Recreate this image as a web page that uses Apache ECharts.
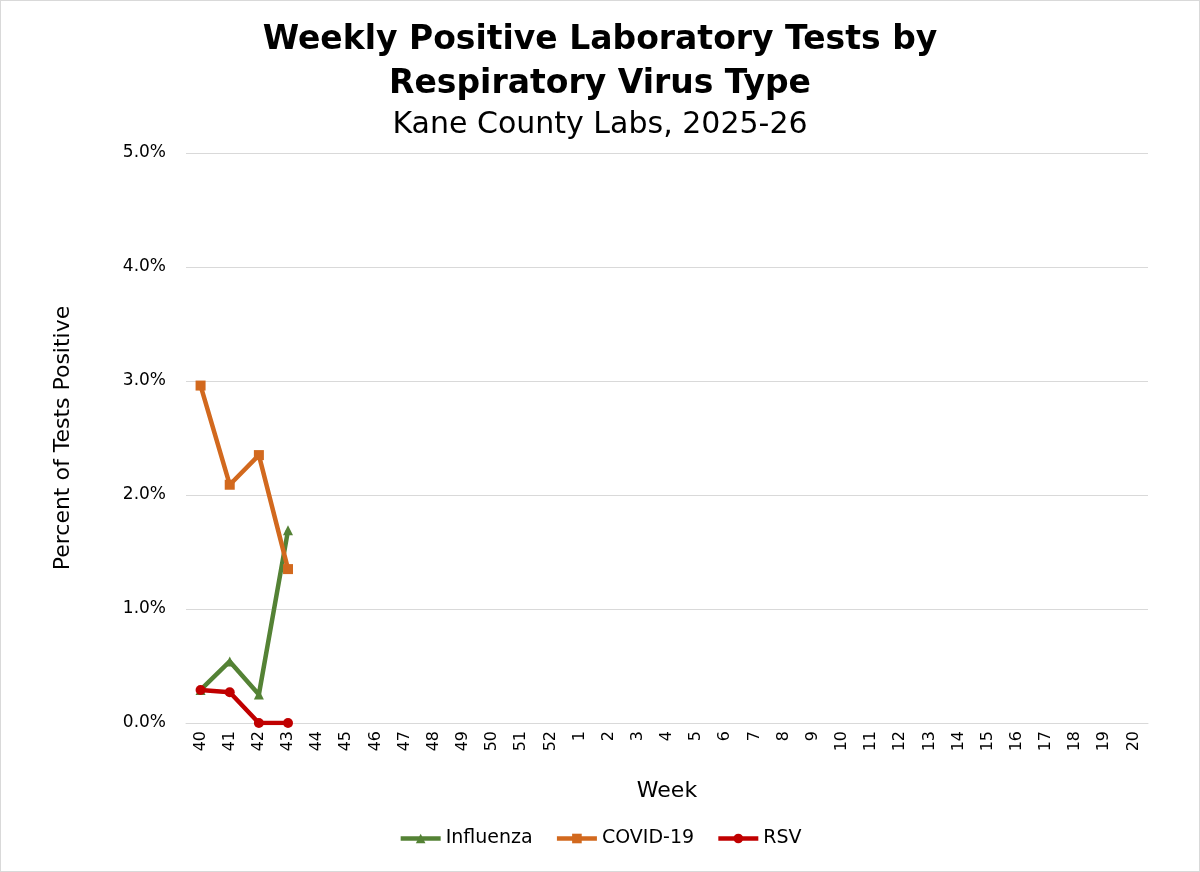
<!DOCTYPE html>
<html><head><meta charset="utf-8">
<script src="https://cdn.jsdelivr.net/npm/echarts@6/dist/echarts.min.js"></script>
<style>html,body{margin:0;padding:0;background:#fff}#c{width:1198px;height:870px;border:1px solid #d9d9d9}</style>
</head><body><div id="c"></div>
<script>
const weeks = ['40','41','42','43','44','45','46','47','48','49','50','51','52','1','2','3','4','5','6','7','8','9','10','11','12','13','14','15','16','17','18','19','20'];
const influenza = [0.29, 0.54, 0.25, 1.69];
const covid = [2.96, 2.09, 2.35, 1.35];
const rsv = [0.29, 0.27, 0.0, 0.0];
const F = 'DejaVu Sans, Verdana, sans-serif';
const chart = echarts.init(document.getElementById('c'));
function s(name, data, color, symbol, size){
  return {name, type:'line', data, symbol, symbolSize:size, showSymbol:true,
    itemStyle:{color}, lineStyle:{color, width:4.5}};
}
chart.setOption({
  backgroundColor:'#fff',
  animation:false,
  title:{text:'Weekly Positive Laboratory Tests by\nRespiratory Virus Type', subtext:'Kane County Labs, 2025-26',
    left:'center', top:12, itemGap:4,
    textStyle:{fontFamily:F, fontSize:33, fontWeight:'bold', color:'#000', lineHeight:44},
    subtextStyle:{fontFamily:F, fontSize:30, color:'#000'}},
  grid:{left:185, right:51, top:152, bottom:148, containLabel:false},
  xAxis:{type:'category', data:weeks, name:'Week', nameLocation:'middle', nameGap:57,
    nameTextStyle:{fontFamily:F, fontSize:22, color:'#000'},
    axisLine:{lineStyle:{color:'#d9d9d9'}}, axisTick:{show:false},
    axisLabel:{rotate:90, fontFamily:F, fontSize:16, color:'#000', interval:0}},
  yAxis:{type:'value', min:0, max:5, interval:1, name:'Percent of Tests Positive', nameLocation:'middle', nameGap:112,
    nameTextStyle:{fontFamily:F, fontSize:22, color:'#000'},
    axisLabel:{fontFamily:F, fontSize:17, color:'#000', margin:20, formatter:v=>v.toFixed(1)+'%'},
    splitLine:{lineStyle:{color:'#d9d9d9'}}},
  legend:{bottom:18, left:'center', itemWidth:40, itemHeight:12, itemGap:22,
    lineStyle:{width:4.5},
    textStyle:{fontFamily:F, fontSize:19, color:'#000'}},
  series:[
    s('Influenza', influenza, '#548235', 'triangle', 10),
    s('COVID-19', covid, '#d2691e', 'rect', 10),
    s('RSV', rsv, '#c00000', 'circle', 10)
  ]
});
</script></body></html>
